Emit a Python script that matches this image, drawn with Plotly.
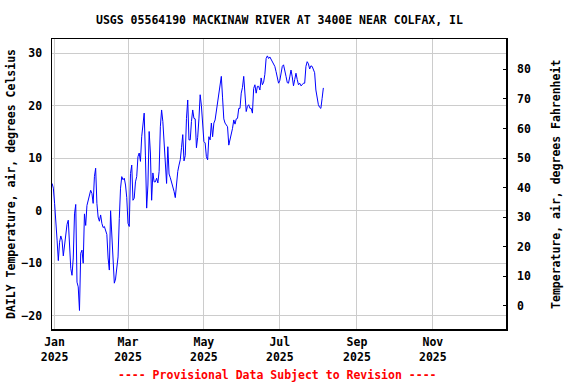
import pandas as pd
import plotly.graph_objects as go

# ---------------- data ----------------
start_date = "2024-12-30"
temp_c = [
    5.2, 4.3, 1.4, -1.5, -5.6, -9.5, -6.0, -4.8, -5.6, -8.6,
    -6.2, -4.0, -2.6, -1.8, -7.8, -11.0, -12.3, -9.0, -0.6, 1.2,
    -13.6, -14.5, -19.0, -8.1, -7.5, -10.0, -0.6, -2.8, 1.0, 2.0,
    2.8, 3.9, 3.3, 1.4, 6.5, 8.1, 1.4, -1.2, -2.0, -0.8,
    -2.4, -3.2, -3.0, -3.8, -4.5, -9.0, -11.3, 0.0, -5.6, -10.7,
    -13.8, -13.0, -11.0, -8.8, -1.5, 4.3, 6.5, 5.9, 6.2, 4.9,
    2.5, -2.4, -3.0, 7.1, 8.7, 2.0, 2.4, 5.5, 6.5, 10.3,
    11.0, 9.4, 14.1, 16.0, 18.6, 10.6, 0.5, 4.9, 15.1, 11.0,
    2.0, 7.2, 5.5, 5.5, 6.2, 5.3, 7.5, 16.0, 19.2, 17.0,
    13.5, 10.6, 5.2, 12.2, 7.0, 6.3, 5.5, 4.5, 3.7, 2.5,
    5.5, 7.5, 8.7, 9.7, 12.0, 14.5, 9.5, 10.5, 17.6, 21.1,
    13.5, 13.5, 17.0, 19.2, 17.6, 17.5, 12.0, 14.0, 17.5, 22.1,
    20.0, 17.0, 13.2, 12.9, 10.3, 9.7, 14.1, 13.5, 16.7, 14.1,
    16.7, 17.3, 19.0, 20.2, 22.7, 24.6, 25.6, 21.5, 17.5, 16.7,
    16.4, 16.0, 12.5, 13.5, 15.1, 15.7, 17.3, 16.5, 17.5, 17.6,
    19.5, 19.5, 22.4, 23.5, 25.6, 22.0, 18.9, 19.9, 20.2, 19.5,
    19.5, 18.6, 23.3, 24.0, 22.4, 23.7, 23.7, 23.0, 25.3, 24.0,
    24.5, 26.0, 29.0, 29.5, 29.0, 29.3, 28.8, 28.6, 28.1, 27.5,
    26.5, 25.3, 24.3, 24.8, 26.0, 27.5, 27.8, 26.9, 25.6, 24.4,
    24.3, 25.5, 26.8, 25.5, 23.8, 25.0, 26.2, 25.0, 24.0, 24.3,
    23.8, 24.0, 24.3, 24.3, 27.5, 28.4, 28.0, 27.0, 27.6, 27.5,
    26.8, 26.3, 23.0, 21.4, 20.2, 19.7, 19.5, 21.4, 23.4,
]
dates = pd.date_range(start_date, periods=len(temp_c), freq="D")

x_tick_dates = ["2025-01-01", "2025-03-01", "2025-05-01", "2025-07-01", "2025-09-01", "2025-11-01"]
x_tick_labels = ["Jan<br>2025", "Mar<br>2025", "May<br>2025", "Jul<br>2025", "Sep<br>2025", "Nov<br>2025"]
c_ticks = [-20, -10, 0, 10, 20, 30]
f_ticks = [0, 10, 20, 30, 40, 50, 60, 70, 80]

title_text = "USGS 05564190 MACKINAW RIVER AT 3400E NEAR COLFAX, IL"
left_title = "DAILY Temperature, air, degrees Celsius"
right_title = "Temperature, air, degrees Fahrenheit"
footer_text = "---- Provisional Data Subject to Revision ----"

# ---------------- figure ----------------
FONT = "DejaVu Sans Mono"
FS = 11.5
bold = dict(family=FONT, size=FS, color="black", weight="bold")

fig = go.Figure()
fig.add_trace(go.Scatter(
    x=dates, y=temp_c, mode="lines",
    line=dict(color="#0000ff", width=1),
    showlegend=False, hoverinfo="skip",
))

fig.update_layout(
    width=576, height=384,
    margin=dict(l=52, r=70, t=39, b=55, pad=0),
    paper_bgcolor="white", plot_bgcolor="white",
    showlegend=False,
    hovermode=False,
    xaxis=dict(
        type="date",
        range=["2024-12-29 22:00", "2025-12-29 19:00"],
        tickmode="array", tickvals=x_tick_dates, ticktext=x_tick_labels,
        showgrid=True, gridcolor="#cccccc", gridwidth=1,
        zeroline=False,
        showline=True, mirror=True, linecolor="black", linewidth=1.5,
        ticks="", tickfont=bold, ticklabelstandoff=2,
    ),
    yaxis=dict(
        range=[-22.53, 32.72],
        tickmode="array", tickvals=c_ticks,
        showgrid=True, gridcolor="#cccccc", gridwidth=1,
        zeroline=False,
        showline=True, mirror=True, linecolor="black", linewidth=1.5,
        ticks="", tickfont=bold, ticklabelstandoff=6,
    ),
    yaxis2=dict(
        overlaying="y", side="right",
        range=[-7.85, 90.29],
        tickmode="array", tickvals=f_ticks,
        showgrid=False, zeroline=False,
        showline=False,
        ticks="inside", ticklen=3, tickwidth=1, tickcolor="black",
        tickfont=bold, ticklabelstandoff=10,
    ),
    annotations=[
        dict(text=title_text, xref="paper", yref="paper", x=0.5, y=1.0655,
             xanchor="center", yanchor="middle", showarrow=False, font=bold),
        dict(text=left_title, xref="paper", yref="paper", x=-0.0903, y=0.5,
             xanchor="center", yanchor="middle", textangle=-90, showarrow=False, font=bold),
        dict(text=right_title, xref="paper", yref="paper", x=1.110, y=0.5,
             xanchor="center", yanchor="middle", textangle=-90, showarrow=False, font=bold),
        dict(text=footer_text, xref="paper", yref="paper", x=0.4967, y=-0.1586,
             xanchor="center", yanchor="middle", showarrow=False,
             font=dict(family=FONT, size=FS, color="red", weight="bold")),
    ],
)
# invisible trace so the right axis is rendered
fig.add_trace(go.Scatter(x=[dates[0]], y=[None], yaxis="y2", mode="lines",
                         showlegend=False, hoverinfo="skip"))

fig.write_html(
    "out.html",
    config={"displayModeBar": False, "staticPlot": True},
    post_script="document.body.style.margin='0';document.body.style.padding='0';",
)
